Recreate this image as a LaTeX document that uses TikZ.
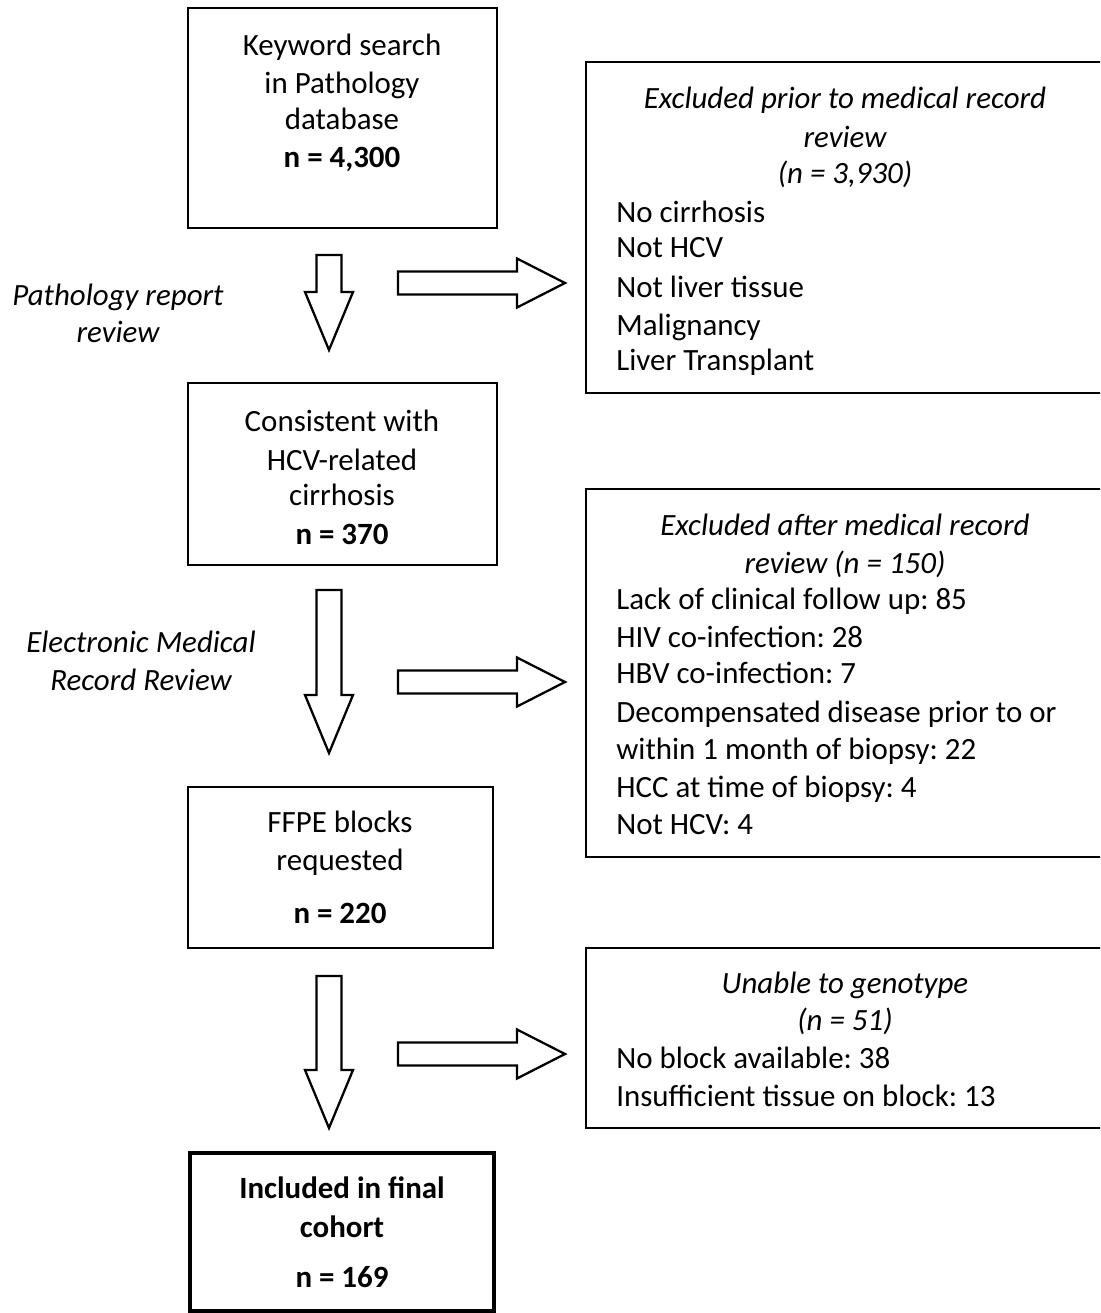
\documentclass[tikz,border=0pt]{standalone}
\usepackage{fontspec}
\setmainfont{Carlito}
\frenchspacing
\newcommand{\flowfont}{\fontsize{17.6}{21.3}\selectfont}
\tikzset{
	box/.style={draw, line width=1.3pt, inner sep=0pt},
	final box/.style={draw, line width=2.4pt, inner sep=0pt},
	line/.style={anchor=base, inner sep=0pt},
	bold line/.style={line, font=\flowfont\bfseries},
	head line/.style={line, font=\flowfont\itshape},
	item/.style={anchor=base west, inner sep=0pt},
	block/.style={draw, line width=1.3pt, line join=miter},
	down block/.pic={\draw[block] (-12.5,0) -- (12.5,0) -- (12.5,#1) -- (24,#1) -- (0,#1+58) -- (-24,#1) -- (-12.5,#1) -- cycle;},
	right block/.pic={\draw[block] (0,-11.5) -- (119,-11.5) -- (119,-24.5) -- (167,0) -- (119,24.5) -- (119,11.5) -- (0,11.5) -- cycle;}
}

\begin{document}
\begin{tikzpicture}[x=0.02cm, y=-0.02cm, font=\flowfont]
	\useasboundingbox (0,0) rectangle (1100,1313);
	\clip (0,0) rectangle (1100,1313);
	
	% left column
	\node[box, minimum width=6.18cm, minimum height=4.40cm] (search) at (342.5,118) {};
	\node[box, minimum width=6.18cm, minimum height=3.64cm] (consistent) at (342.5,474) {};
	\node[box, minimum width=6.10cm, minimum height=3.22cm] (ffpe) at (340.5,867.5) {};
	\node[final box, minimum width=6.08cm, minimum height=3.16cm] (final) at (342,1232) {};
	
	% right column
	\node[box, minimum width=10.36cm, minimum height=6.62cm] (prior) at (845,227.5) {};
	\node[box, minimum width=10.36cm, minimum height=7.36cm] (after) at (845,673) {};
	\node[box, minimum width=10.36cm, minimum height=3.60cm] (genotype) at (845,1038) {};
	
	\foreach \txt/\y [count=\i] in {Keyword search/55, in Pathology/93, database/129}
		\node[line] (search-\i) at (342,\y) {\txt};
	\node[bold line] (search-n) at (342,167) {n = 4,300};
	
	\foreach \txt/\y [count=\i] in {Consistent with/431, HCV-related/470, cirrhosis/505}
		\node[line] (consistent-\i) at (342,\y) {\txt};
	\node[bold line] (consistent-n) at (342,544) {n = 370};
	
	\foreach \txt/\y [count=\i] in {FFPE blocks/832, requested/870}
		\node[line] (ffpe-\i) at (340,\y) {\txt};
	\node[bold line] (ffpe-n) at (340,923) {n = 220};
	
	\foreach \txt/\y [count=\i] in {Included in final/1198, cohort/1237, n = 169/1287}
		\node[bold line] (final-\i) at (342,\y) {\txt};
	
	\foreach \txt/\y [count=\i] in {Excluded prior to medical record/108, review/147, {(n = 3,930)}/183}
		\node[head line] (prior-h\i) at (845,\y) {\txt};
	\foreach \txt/\y [count=\i] in {No cirrhosis/222, Not HCV/257, Not liver tissue/297, Malignancy/335, Liver Transplant/370}
		\node[item] (prior-\i) at (616,\y) {\txt};
	
	\foreach \txt/\y [count=\i] in {Excluded after medical record/535, review (n = 150)/573}
		\node[head line] (after-h\i) at (845,\y) {\txt};
	\foreach \txt/\y [count=\i] in {Lack of clinical follow up: 85/609, HIV co-infection: 28/647, HBV co-infection: 7/683, Decompensated disease prior to or/722, within 1 month of biopsy: 22/759, HCC at time of biopsy: 4/797, Not HCV: 4/834}
		\node[item] (after-\i) at (616,\y) {\txt};
	
	\foreach \txt/\y [count=\i] in {Unable to genotype/993, (n = 51)/1030}
		\node[head line] (genotype-h\i) at (845,\y) {\txt};
	\foreach \txt/\y [count=\i] in {No block available: 38/1068, Insufficient tissue on block: 13/1106}
		\node[item] (genotype-\i) at (616,\y) {\txt};
	
	% step labels
	\node[head line] (review-1) at (118,305) {Pathology report};
	\node[head line] (review-2) at (118,342) {review};
	\node[head line] (emr-1) at (141,652) {Electronic Medical};
	\node[head line] (emr-2) at (141,690) {Record Review};
	
	% block arrows
	\pic at (329,255) {down block=37};
	\pic at (329,590) {down block=105};
	\pic at (329,976) {down block=94};
	\pic at (398,283) {right block};
	\pic at (398,682) {right block};
	\pic at (398,1054) {right block};
\end{tikzpicture}
\end{document}
